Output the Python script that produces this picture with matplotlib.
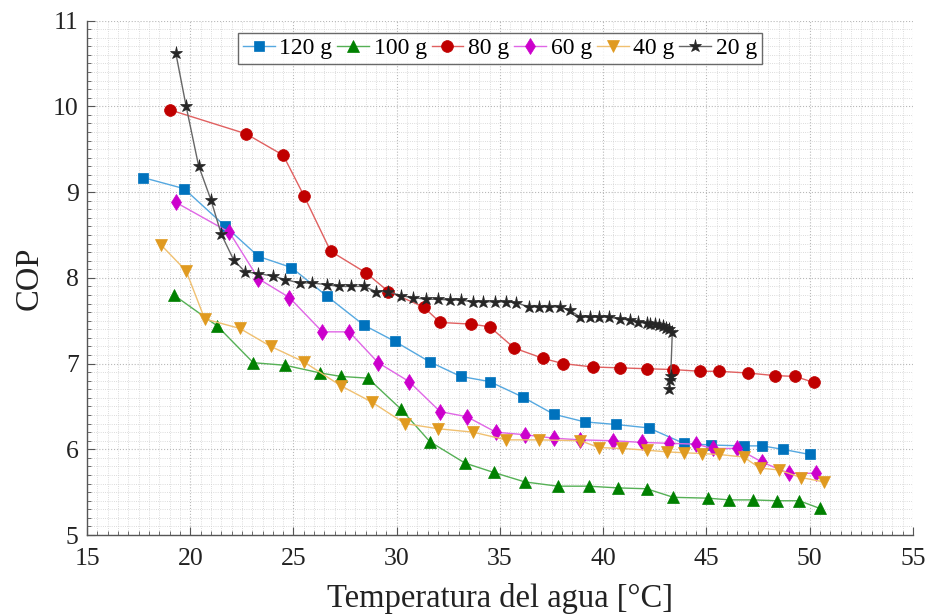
import numpy as np
import matplotlib
matplotlib.use("Agg")
import matplotlib.pyplot as plt
from matplotlib.ticker import MultipleLocator

plt.rcParams["font.family"] = ["Liberation Serif", "DejaVu Serif"]

# ---- data -----------------------------------------------------------------
x120 = [17.7, 19.7, 21.7, 23.3, 24.9, 26.6, 28.4, 29.9, 31.6, 33.1, 34.5, 36.1,
        37.6, 39.1, 40.6, 42.2, 43.9, 45.2, 46.8, 47.7, 48.7, 50.0]
y120 = [9.17, 9.04, 8.60, 8.25, 8.12, 7.79, 7.45, 7.26, 7.02, 6.85, 6.79, 6.61,
        6.41, 6.32, 6.29, 6.25, 6.07, 6.05, 6.04, 6.04, 6.00, 5.94]

x100 = [19.2, 21.3, 23.05, 24.6, 26.3, 27.3, 28.6, 30.2, 31.6, 33.3, 34.7, 36.2,
        37.8, 39.3, 40.7, 42.1, 43.4, 45.1, 46.1, 47.25, 48.4, 49.5, 50.5]
y100 = [7.80, 7.44, 7.01, 6.98, 6.89, 6.85, 6.83, 6.47, 6.09, 5.84, 5.73, 5.62,
        5.57, 5.57, 5.55, 5.54, 5.44, 5.43, 5.41, 5.41, 5.40, 5.40, 5.31]

x80 = [19.0, 22.7, 24.5, 25.5, 26.8, 28.5, 29.6, 31.3, 32.1, 33.6, 34.5, 35.7,
       37.1, 38.05, 39.5, 40.8, 42.1, 43.4, 44.7, 45.6, 47.0, 48.3, 49.3, 50.2]
y80 = [9.96, 9.68, 9.43, 8.96, 8.31, 8.06, 7.84, 7.66, 7.48, 7.46, 7.43, 7.18,
       7.06, 7.00, 6.96, 6.95, 6.94, 6.93, 6.91, 6.91, 6.89, 6.86, 6.85, 6.78]

x60 = [19.3, 21.9, 23.3, 24.8, 26.4, 27.7, 29.1, 30.6, 32.1, 33.4, 34.8, 36.2,
       37.6, 38.9, 40.5, 41.9, 43.2, 44.5, 45.3, 46.5, 47.7, 49.0, 50.3]
y60 = [8.88, 8.53, 7.99, 7.77, 7.37, 7.37, 7.01, 6.79, 6.44, 6.38, 6.20, 6.17,
       6.13, 6.11, 6.10, 6.08, 6.07, 6.06, 6.01, 6.01, 5.85, 5.72, 5.72]

x40 = [18.6, 19.8, 20.7, 22.4, 23.9, 25.5, 27.3, 28.8, 30.4, 32.0, 33.7, 35.3,
       36.9, 38.9, 39.8, 40.9, 42.1, 43.1, 43.9, 44.8, 45.6, 46.8, 47.6, 48.5,
       49.6, 50.7]
y40 = [8.38, 8.08, 7.52, 7.41, 7.20, 7.02, 6.74, 6.55, 6.30, 6.24, 6.20, 6.11,
       6.11, 6.10, 6.02, 6.01, 5.99, 5.97, 5.96, 5.95, 5.94, 5.91, 5.78, 5.76,
       5.67, 5.62]

x20 = [19.3, 19.8, 20.4, 21.0, 21.5, 22.1, 22.65, 23.3, 24.0, 24.6, 25.3, 25.9,
       26.6, 27.2, 27.8, 28.4, 29.0, 29.6, 30.2, 30.8, 31.4, 32.0, 32.6, 33.1,
       33.7, 34.2, 34.75, 35.3, 35.8, 36.4, 36.9, 37.4, 37.9, 38.4, 38.9, 39.35,
       39.8, 40.3, 40.8, 41.3, 41.7, 42.1, 42.25, 42.5, 42.7, 42.9, 43.05, 43.2,
       43.35, 43.27, 43.25, 43.2]
y20 = [10.62, 10.00, 9.31, 8.91, 8.51, 8.21, 8.07, 8.05, 8.02, 7.98, 7.94, 7.94,
       7.92, 7.90, 7.90, 7.90, 7.84, 7.84, 7.79, 7.77, 7.75, 7.75, 7.74, 7.74,
       7.72, 7.72, 7.72, 7.72, 7.71, 7.66, 7.66, 7.66, 7.66, 7.62, 7.54, 7.54,
       7.54, 7.54, 7.52, 7.51, 7.48, 7.47, 7.46, 7.46, 7.45, 7.44, 7.42, 7.40,
       7.37, 6.85, 6.81, 6.70]

series = [
    ("120 g", x120, y120, "s", "#0072BD", "#55A8E0", 7.0),
    ("100 g", x100, y100, "^", "#008000", "#55B055", 8.0),
    ("80 g", x80, y80, "o", "#C00000", "#E06060", 8.5),
    ("60 g", x60, y60, "d", "#CC00CC", "#E066E6", 8.5),
    ("40 g", x40, y40, "v", "#E09A20", "#F0C070", 8.5),
    ("20 g", x20, y20, "*", "#262626", "#666666", 9.5),
]

fig = plt.figure(figsize=(9.31, 6.15), dpi=100)
ax = fig.add_axes([0.0935, 0.130, 0.887, 0.8365])

for label, xs, ys, mk, mc, lc, ms in series:
    ax.plot(xs, ys, color=lc, lw=1.0, marker=mk, ms=ms, mfc=mc, mec=mc,
            mew=0.5, label=label)

ax.set_xlim(15, 55)
ax.set_ylim(5, 11)
ax.xaxis.set_major_locator(MultipleLocator(5))
ax.xaxis.set_minor_locator(MultipleLocator(0.5))
ax.yaxis.set_major_locator(MultipleLocator(1))
ax.yaxis.set_minor_locator(MultipleLocator(0.1))

ax.grid(which="major", ls=":", lw=0.8, color="#b8b8b8")
ax.grid(which="minor", ls=":", lw=0.6, color="#d0d0d0")
ax.set_axisbelow(True)

for s in ("top", "right"):
    ax.spines[s].set_visible(False)
for s in ("left", "bottom"):
    ax.spines[s].set_color("#555555")
    ax.spines[s].set_linewidth(1.0)

ax.tick_params(which="both", direction="in", colors="#555555", labelcolor="#222222")
ax.tick_params(which="major", length=6, labelsize=18.5, pad=6)
ax.tick_params(axis="x", which="major", pad=9)
ax.tick_params(which="minor", length=3)

ax.set_xlabel("Temperatura del agua [°C]", fontsize=23.5, color="#222222", labelpad=10)
ax.set_ylabel("COP", fontsize=23.5, color="#222222", labelpad=6)

leg = ax.legend(loc="upper center", bbox_to_anchor=(0.5, 0.976), ncol=6,
                fontsize=17, frameon=True, fancybox=False, borderaxespad=0,
                handlelength=1.35, handletextpad=0.2, columnspacing=0.2,
                borderpad=0.2)
leg.get_frame().set_edgecolor("#444444")
leg.get_frame().set_linewidth(1.0)

fig.savefig("out.png", dpi=100)
